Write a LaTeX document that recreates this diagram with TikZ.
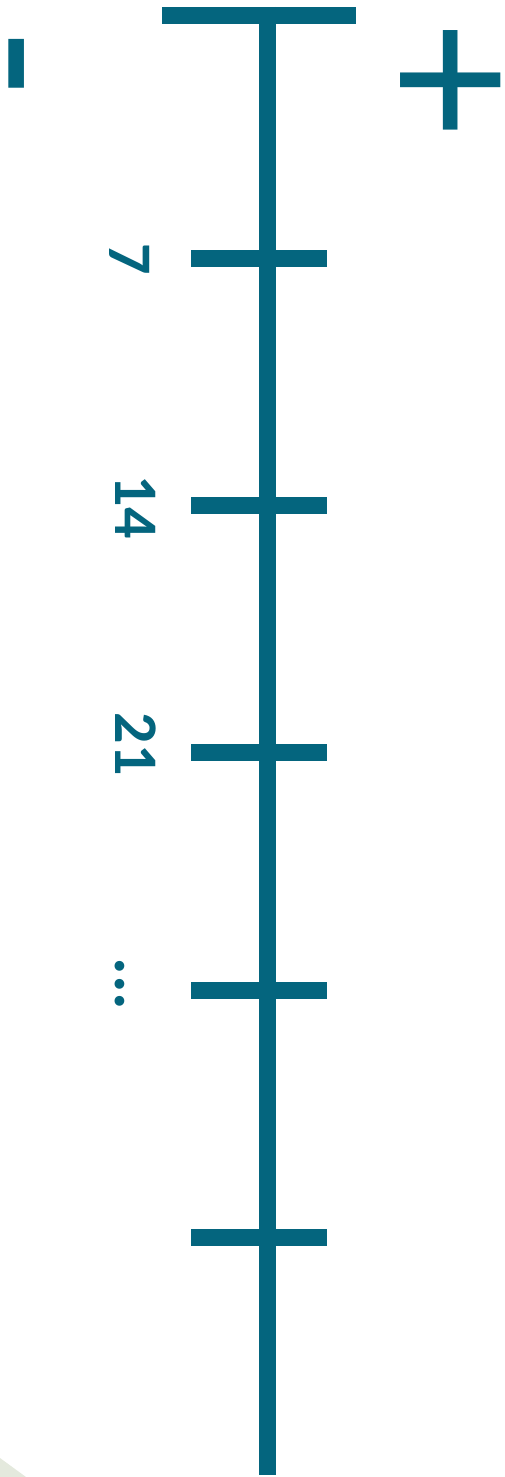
\documentclass[tikz,border=0pt]{standalone}
\usepackage{fontspec}
\newfontfamily\labfont{Carlito}
\newfontfamily\signfont{Liberation Sans}
\definecolor{teal}{RGB}{4,101,126}
\definecolor{sage}{RGB}{228,233,221}
\begin{document}
\begin{tikzpicture}[x=1pt,y=-1pt,
  bar/.style={draw=teal,line width=17pt},
  lab/.style={text=teal,font=\labfont\bfseries\fontsize{62}{62}\selectfont,rotate=-90,anchor=base,inner sep=0pt},
  sign/.style={text=teal,rotate=-90,inner sep=0pt}]
\useasboundingbox (0,0) rectangle (504,1477);
\fill[sage] (0,1458) -- (26,1477) -- (0,1477) -- cycle;
% axis
\coordinate (tl) at (162,15.5);
\coordinate (tr) at (356,15.5);
\coordinate (top) at (267.5,7);
\coordinate (bot) at (267.5,1475);
\draw[bar] (tl) -- (tr);
\draw[bar] (top) -- (bot);
% ticks
\foreach \n/\y in {a/258.5,b/505,c/752,d/990,e/1237}{
  \coordinate (\n l) at (191,\y);
  \coordinate (\n r) at (327,\y);
  \draw[bar] (\n l) -- (\n r);
}
% labels
\node[lab] (l7) at (109,259) {7};
\node[lab] (l14) at (115,507) {14};
\node[lab] (l21) at (115,744) {21};
\node[lab,font=\labfont\bfseries\fontsize{66}{66}\selectfont] (ldots) at (115,984) {...};
% signs
\node[sign,font=\signfont\fontsize{200}{200}\selectfont] (minus) at (17,64) {\raisebox{-45.3pt}[16.6pt][0pt]{-}};
\node[sign,font=\signfont\fontsize{205}{205}\selectfont] (plus) at (455,80) {\raisebox{-23.7pt}[97pt][0pt]{+}};
\end{tikzpicture}
\end{document}
